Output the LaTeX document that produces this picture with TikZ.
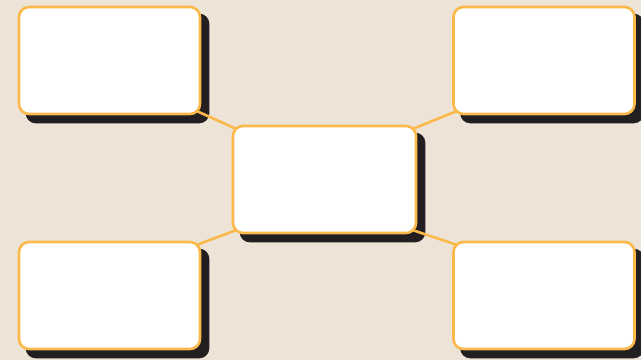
\documentclass[tikz,border=0pt]{standalone}
\usetikzlibrary{calc}
\definecolor{bgc}{HTML}{EDE3D6}
\definecolor{edgec}{HTML}{FBB84B}
\definecolor{shadc}{HTML}{231F20}
\pgfdeclarelayer{bgl}
\pgfdeclarelayer{shad}
\pgfdeclarelayer{mid}
\pgfsetlayers{bgl,shad,mid,main}
\begin{document}
\begin{tikzpicture}[x=1pt,y=1pt,
  box/.style={rectangle, draw=edgec, line width=2.6pt, fill=white, rounded corners=10pt,
    minimum width=181pt, minimum height=107pt, inner sep=0pt},
  link/.style={draw=edgec, line width=2.6pt},
  shadowbox/.style={fill=shadc, rounded corners=10pt}]
\begin{pgfonlayer}{bgl}
\fill[bgc] (0,0) rectangle (641,360);
\end{pgfonlayer}
\useasboundingbox (0,0) rectangle (641,360);
\node[box] (tl) at (109.5,299.5) {};
\node[box] (tr) at (544,299.5) {};
\node[box, minimum width=183pt] (c) at (324.5,180.5) {};
\node[box] (bl) at (109.5,64.5) {};
\node[box] (br) at (544,64.5) {};
\begin{pgfonlayer}{shad}
\foreach \n in {tl,tr,c,bl,br}{
  \fill[shadowbox] ($(\n.north west)+(8,-8)$) rectangle ($(\n.south east)+(8,-8)$);
}
\end{pgfonlayer}
\begin{pgfonlayer}{mid}
\draw[link] ($(tl.south east)+(-4,4)$) -- ($(c.north west)+(4,-4)$);
\draw[link] ($(tr.south west)+(4,4)$) -- ($(c.north east)+(-4,-4)$);
\draw[link] ($(bl.north east)+(-4,-4)$) -- ($(c.south west)+(4,4)$);
\draw[link] ($(br.north west)+(4,-4)$) -- ($(c.south east)+(-4,4)$);
\end{pgfonlayer}
\end{tikzpicture}
\end{document}
